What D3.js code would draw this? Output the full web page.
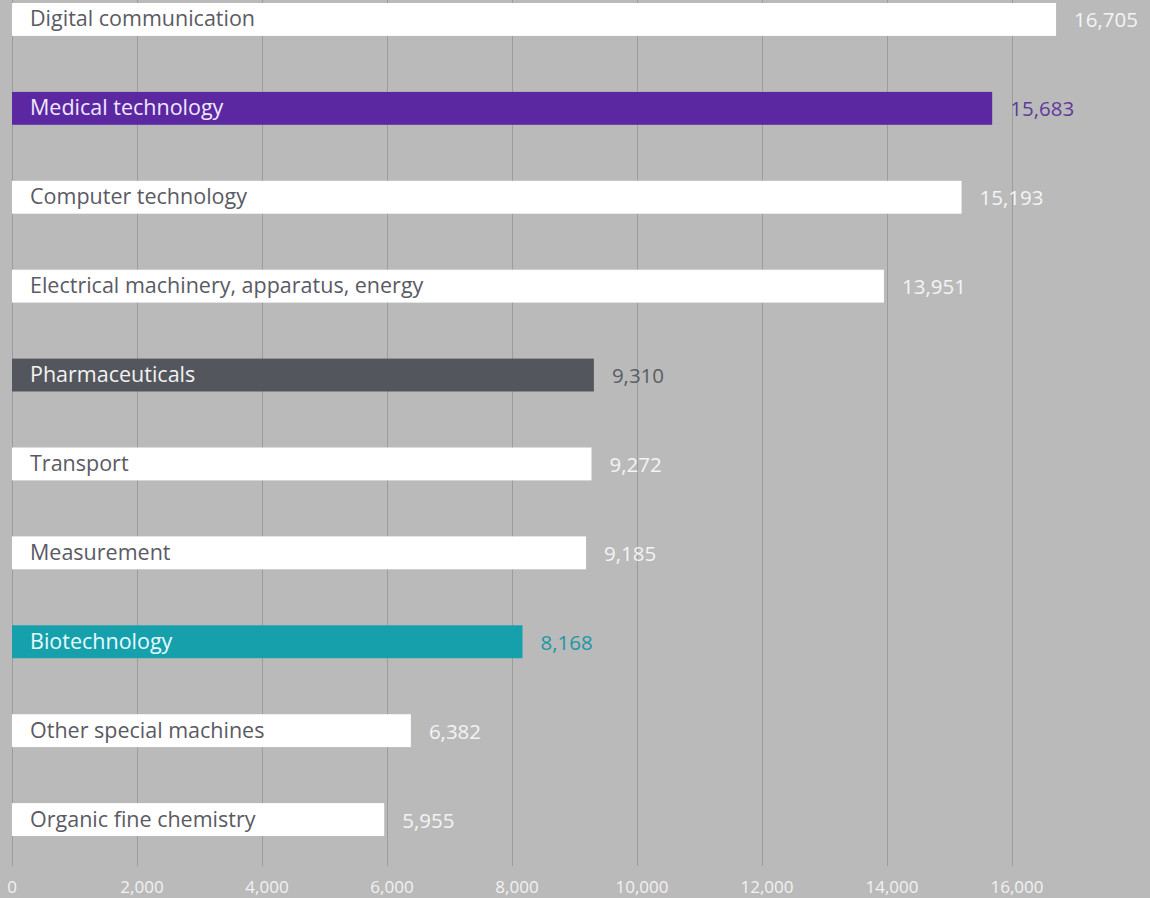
<!DOCTYPE html>
<html><head><meta charset="utf-8">
<script src="https://cdn.jsdelivr.net/npm/d3@7"></script>
<style>body{margin:0;background:#bababa;}svg{display:block;}</style>
</head><body>
<script>
const categories = ["Digital communication","Medical technology","Computer technology","Electrical machinery, apparatus, energy","Pharmaceuticals","Transport","Measurement","Biotechnology","Other special machines","Organic fine chemistry"];
const values = [16705,15683,15193,13951,9310,9272,9185,8168,6382,5955];
const valueLabels = ["16,705","15,683","15,193","13,951","9,310","9,272","9,185","8,168","6,382","5,955"];
const barColors = ["#ffffff","#5b28a2","#ffffff","#ffffff","#53565c","#ffffff","#ffffff","#16a0ac","#ffffff","#ffffff"];
const textColors = ["#5a5a64","#f0e8ff","#5a5a64","#5a5a64","#f2f2f2","#5a5a64","#5a5a64","#e6fbff","#5a5a64","#5a5a64"];
const valueColors = ["#f4f4f4","#5e3a9a","#f4f4f4","#f4f4f4","#5b5e64","#f4f4f4","#f4f4f4","#1a98a4","#f4f4f4","#f4f4f4"];
const ticks = [0,2000,4000,6000,8000,10000,12000,14000,16000];

const W=1150,H=898;
const svg=d3.select("body").append("svg").attr("width",W).attr("height",H);
svg.append("rect").attr("width",W).attr("height",H).attr("fill","#bababa");
const x=d3.scaleLinear().domain([0,16000]).range([12,1012]);
const y=d3.scaleBand().domain(categories).range([-25,864]).paddingInner(0.63).paddingOuter(0.315);
const font="'Open Sans','Noto Sans',sans-serif";

svg.append("g").selectAll("line").data(ticks).join("line")
  .attr("x1",d=>x(d)+0.5).attr("x2",d=>x(d)+0.5).attr("y1",0).attr("y2",866)
  .attr("stroke","#9c9c9c").attr("stroke-width",1);
svg.append("g").selectAll("text").data(ticks).join("text")
  .attr("x",d=>x(d)+(d===0?0:5)).attr("y",893).attr("text-anchor","middle")
  .attr("font-family",font).attr("font-size",17).attr("fill","#f2f2f2")
  .text(d=>d3.format(",")(d));

const g=svg.append("g").selectAll("g").data(categories).join("g");
g.append("rect").attr("x",x(0)).attr("y",d=>y(d)).attr("height",y.bandwidth())
  .attr("width",(d,i)=>x(values[i])-x(0)).attr("fill",(d,i)=>barColors[i]);
g.append("text").attr("x",x(0)+18).attr("y",d=>y(d)+y.bandwidth()/2+7)
  .attr("font-family",font).attr("font-size",21.5).attr("fill",(d,i)=>textColors[i]).text(d=>d);
g.append("text").attr("x",(d,i)=>x(values[i])+18).attr("y",d=>y(d)+y.bandwidth()/2+8)
  .attr("font-family",font).attr("font-size",20.5).attr("fill",(d,i)=>valueColors[i]).text((d,i)=>valueLabels[i]);
</script>
</body></html>
